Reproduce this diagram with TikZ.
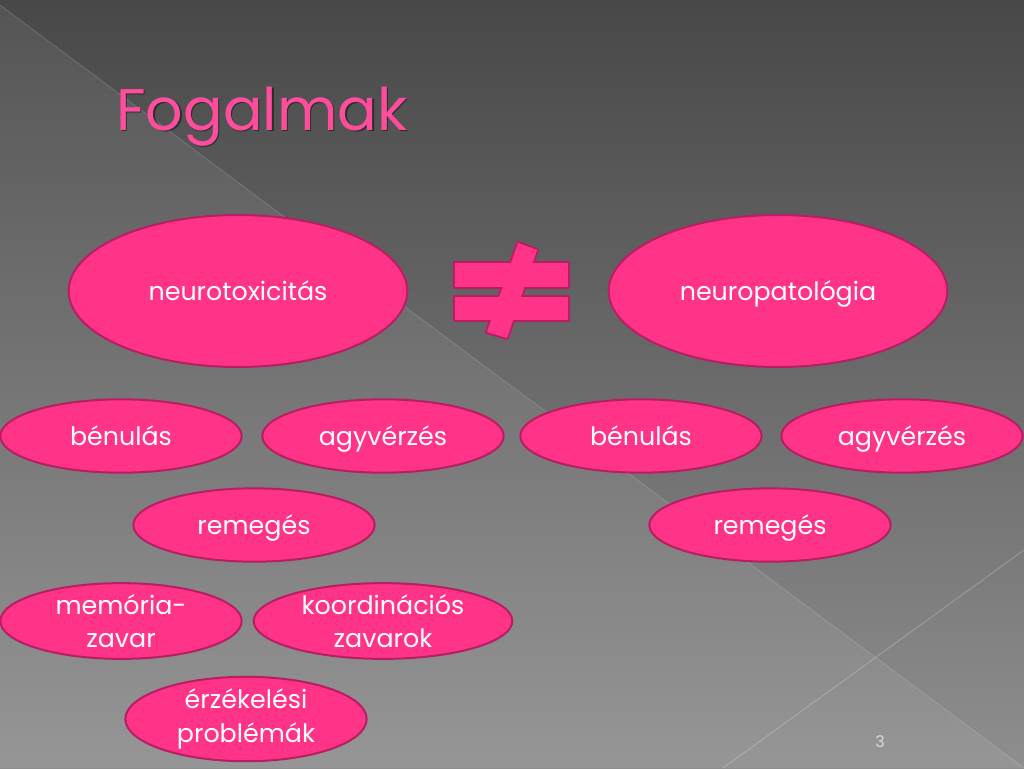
\documentclass[tikz,border=0pt]{standalone}
\usepackage{fontspec}
\setmainfont{Poppins}
\usetikzlibrary{shapes.geometric}
\definecolor{rosm}{HTML}{FF3388}
\definecolor{rosd}{HTML}{B81E62}
\definecolor{rost}{HTML}{FF4D9E}
\definecolor{grisd}{HTML}{484848}
\definecolor{grisc}{HTML}{8E8E8E}

\begin{document}
\begin{tikzpicture}[x=0.75pt, y=-0.75pt]
        \tikzstyle{every node}=[inner sep=0pt, font=\fontsize{19}{25}\selectfont]
        \tikzstyle{bulle}=[ellipse, draw=rosd, fill=rosm, text=white, line width=1.5pt, align=center]
        \tikzstyle{petite}=[bulle, minimum width=181pt, minimum height=55pt]
        \tikzstyle{ligne}=[text height=13.5pt, text depth=0pt]
        \tikzstyle{grande}=[bulle, ligne, minimum width=254pt, minimum height=114pt]
        \useasboundingbox (0,0) rectangle (1024,768);

        % fond
        \shade[top color=grisd, bottom color=grisc] (0,0) rectangle (1024,768);
        \fill[white, opacity=.07] (0,5) -- (1024,768) -- (0,768) -- cycle;
        \draw[white, opacity=.15, line width=.6pt] (0,5) -- (1024,768);
        \draw[white, opacity=.25, line width=.6pt] (1024,550) -- (723,768);

        % titre
        \node[anchor=base west, text=black, opacity=.45, font=\fontsize{44}{50}\selectfont] (ombre) at (117.5,131.5) {Fogalmak};
        \node[anchor=base west, text=rost, font=\fontsize{44}{50}\selectfont] (titre) at (116,130) {Fogalmak};

        \node[grande] (nt) at (238,291) {neurotoxicitás};
        \node[grande] (np) at (778,291) {neuropatológia};
        % signe different
        \draw[rosd, line width=3pt, line join=round]
            (455,263) rectangle (568,287) (455,297) rectangle (568,320)
            (518,243) -- (537,250) -- (507,338) -- (487,332) -- cycle;
        \fill[rosm] (455,263) rectangle (568,287);
        \fill[rosm] (455,297) rectangle (568,320);
        \fill[rosm] (518,243) -- (537,250) -- (507,338) -- (487,332) -- cycle;

        \node[petite, ligne] (b1) at (121,436) {bénulás};
        \node[petite, ligne] (a1) at (383,436) {agyvérzés};
        \node[petite, ligne] (r1) at (254,525) {remegés};
        \node[petite, ligne] (b2) at (641,436) {bénulás};
        \node[petite, ligne] (a2) at (902,436) {agyvérzés};
        \node[petite, ligne] (r2) at (770,525) {remegés};
        \node[petite] (m) at (121,621) {memória-\\zavar};
        \node[petite, minimum width=194pt] (k) at (383,621) {koordinációs\\zavarok};
        \node[petite, minimum height=56pt] (e) at (246,719) {érzékelési\\problémák};

        \node[text=black!15, font=\fontsize{12}{14}\selectfont] (num) at (880,742) {3};
\end{tikzpicture}
\end{document}
